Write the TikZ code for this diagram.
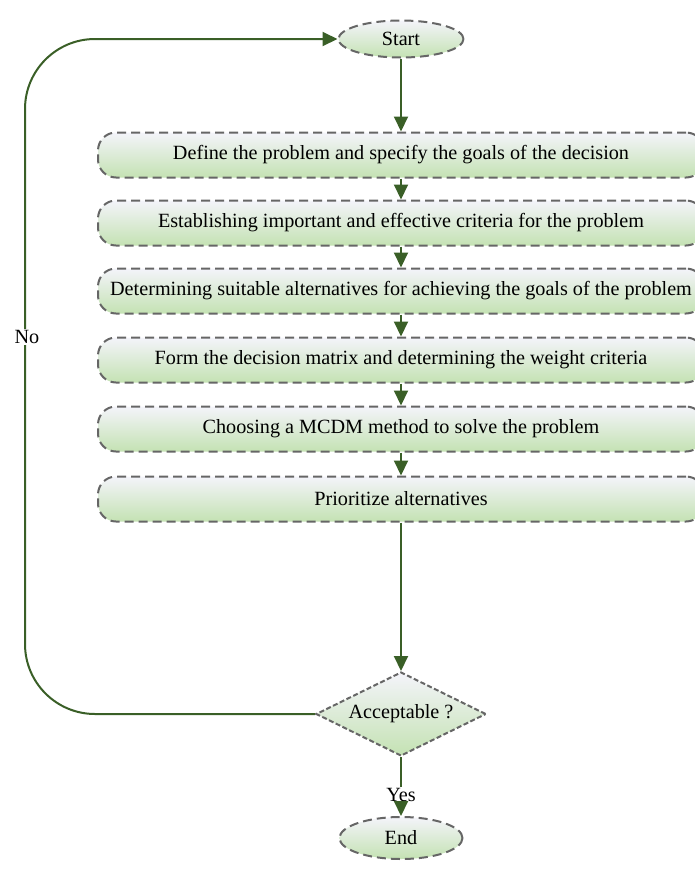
\documentclass[tikz,border=0pt]{standalone}
\usepackage{fontspec}
\setmainfont{Liberation Serif}
\usetikzlibrary{shapes.geometric,arrows.meta,calc}

\definecolor{edgegray}{HTML}{666666}
\definecolor{fillTop}{HTML}{F4F4FA}
\definecolor{fillBot}{HTML}{C4E2B3}
\definecolor{flowgreen}{HTML}{3A5F27}

\tikzset{
  txt/.style={font=\fontsize{20.2}{24}\selectfont},
  shadefill/.style={top color=fillTop, bottom color=fillBot, shading angle=0},
  stepbox/.style={txt, shadefill, draw=edgegray, line width=2pt,
    dash pattern=on 9pt off 5pt, rounded corners=18pt,
    minimum width=606pt, minimum height=45pt, inner sep=0pt},
  terminal/.style={txt, shadefill, draw=edgegray, line width=2pt,
    dash pattern=on 9pt off 5pt, ellipse, inner sep=0pt},
  decision/.style={txt, shadefill, draw=edgegray, line width=2pt,
    dash pattern=on 5pt off 2.5pt, diamond, aspect=2, inner sep=0pt,
    minimum width=170pt, minimum height=84pt},
  link/.style={draw=flowgreen, line width=2pt},
  flow/.style={link, -{Triangle[length=15pt,width=14pt]}},
  lbl/.style={txt, fill=white, inner sep=1pt}
}

\begin{document}
\begin{tikzpicture}[x=1pt,y=-1pt]
\useasboundingbox (0,0) rectangle (695,884);
\clip (0,0) rectangle (695,884);

% terminals, process steps and the decision
\node[terminal, minimum width=125pt, minimum height=37pt] (st) at (401,39) {Start};
\node[stepbox] (s1) at (401,155) {Define the problem and specify the goals of the decision};
\node[stepbox] (s2) at (401,223) {Establishing important and effective criteria for the problem};
\node[stepbox] (s3) at (401,291) {Determining suitable alternatives for achieving the goals of the problem};
\node[stepbox] (s4) at (401,360) {Form the decision matrix and determining the weight criteria};
\node[stepbox] (s5) at (401,429) {Choosing a MCDM method to solve the problem};
\node[stepbox] (s6) at (401,499) {Prioritize alternatives};
\node[decision] (dec) at (401,714) {Acceptable ?};
\node[lbl] (yes) at (401,795) {Yes};
\node[terminal, minimum width=123pt, minimum height=42pt] (en) at (401,838) {End};

% main flow
\draw[flow] (st) -- (s1);
\draw[flow] (s1) -- (s2);
\draw[flow] (s2) -- (s3);
\draw[flow] (s3) -- (s4);
\draw[flow] (s4) -- (s5);
\draw[flow] (s5) -- (s6);
\draw[flow] (s6) -- (dec);
\draw[link] (dec.south) -- (yes.north);
\draw[flow] (yes.south) -- (en.north);

% feedback loop when the result is not acceptable
\coordinate (loopx) at (25,0);
\draw[flow, rounded corners=70pt] (dec.west) -| (loopx |- st.west) -- (st.west);
\node[lbl] (no) at (27,337) {No};
\end{tikzpicture}
\end{document}
